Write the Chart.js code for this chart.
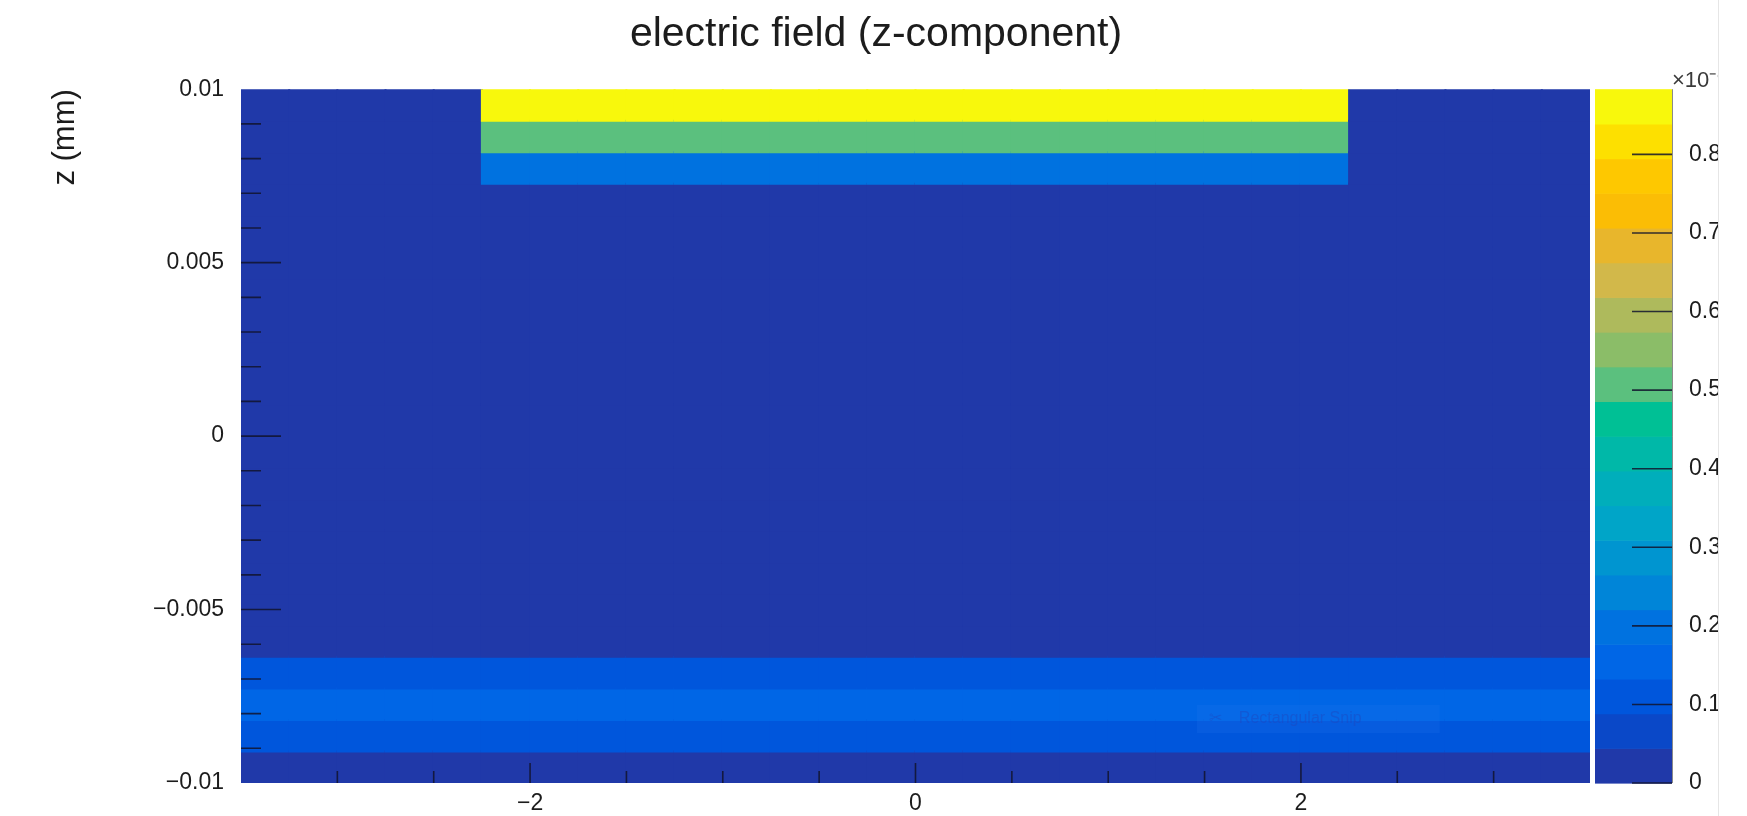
<!DOCTYPE html>
<html>
<head>
<meta charset="utf-8">
<title>electric field (z-component)</title>
<script src="https://cdn.jsdelivr.net/npm/chart.js@4.4.0/dist/chart.umd.min.js"></script>
<style>
  html, body { margin: 0; padding: 0; background: #fff; }
  #clip { width: 1718px; height: 816px; overflow: hidden; border-right: 1px solid #e6e6e6; }
  #wrap { width: 1752px; height: 816px; position: relative; }
</style>
</head>
<body>
<div id="clip"><div id="wrap"><canvas id="fieldChart"></canvas></div></div>
<script>
// binning of the 2D histogram (x and z in mm)
const xRange = [-3.5, 3.5];
const zRange = [-0.01, 0.01];
const xBinCount = 28;
const zBinCount = 22;
const electrodeHalfWidth = 2.25;

// field value per z bin, bottom to top (colour axis units)
const innerColumn = [0, 0.11, 0.16, 0.11, 0, 0, 0, 0, 0, 0, 0, 0, 0, 0, 0, 0, 0, 0, 0, 0.19, 0.5, 0.883];
const outerColumn = [0, 0.11, 0.16, 0.11, 0, 0, 0, 0, 0, 0, 0, 0, 0, 0, 0, 0, 0, 0, 0, 0, 0, 0];

// axes
const xTickLabels = [-2, 0, 2];
const zTickLabels = [-0.01, -0.005, 0, 0.005, 0.01];
const colorTickLabels = [0, 0.1, 0.2, 0.3, 0.4, 0.5, 0.6, 0.7, 0.8];
const colorMax = 0.883;

// 20 contour colours, lowest first
const palette = [
    '#2039a9', '#0a48c8', '#0056dc', '#0066e6', '#0072e0',
    '#0085d8', '#0095d0', '#00a5c8', '#00aebb', '#00b8a8',
    '#00c095', '#5bc07e', '#8bbd68', '#aeba5c', '#d2b84a',
    '#e8b62c', '#fbbd05', '#fec800', '#fde000', '#f8f80c'
];

const FONT = "'Liberation Sans', Arial, sans-serif";
const TEXT = '#1c1c1c';
const TICK = 'rgba(18, 20, 45, 0.85)';

function colorFor(v) {
    const k = Math.floor(v / colorMax * palette.length);
    return palette[Math.max(0, Math.min(palette.length - 1, k))];
}

function fmt(v) {
    const r = parseFloat(Number(v).toFixed(4));
    return r < 0 ? '\u2212' + Math.abs(r) : String(r);
}

// one floating bar per histogram cell
const cells = [];
const xStep = (xRange[1] - xRange[0]) / xBinCount;
const zStep = (zRange[1] - zRange[0]) / zBinCount;
for (let i = 0; i < xBinCount; i++) {
    const xc = xRange[0] + (i + 0.5) * xStep;
    const column = Math.abs(xc) < electrodeHalfWidth ? innerColumn : outerColumn;
    for (let j = 0; j < zBinCount; j++) {
        cells.push({ x: xc, y: [zRange[0] + j * zStep, zRange[0] + (j + 1) * zStep], v: column[j] });
    }
}

// vertical label padding would push the plot area in, ROOT doesn't do that
function noVerticalPadding(s) {
    s.paddingTop = 0;
    s.paddingBottom = 0;
}

// ROOT-like inward ticks, colour palette and the leftover snip label
const rootDecor = {
    id: 'rootDecor',
    afterDatasetsDraw(chart) {
        const { ctx, chartArea: a, scales: { x, y, z } } = chart;
        ctx.save();
        ctx.strokeStyle = TICK;
        ctx.lineWidth = 1.6;
        ctx.beginPath();
        for (let k = -6; k <= 6; k++) {
            const v = k * 0.5;
            const px = x.getPixelForValue(v);
            const len = xTickLabels.includes(v) ? 20 : 12;
            ctx.moveTo(px, a.bottom);
            ctx.lineTo(px, a.bottom - len);
        }
        for (let k = -9; k <= 9; k++) {
            const py = y.getPixelForValue(k * 0.001);
            const len = k % 5 === 0 ? 40 : 20;
            ctx.moveTo(a.left, py);
            ctx.lineTo(a.left + len, py);
        }
        ctx.stroke();

        // faint screenshot-tool label
        const sx0 = x.getPixelForValue(1.46), sx1 = x.getPixelForValue(2.72);
        const sy0 = y.getPixelForValue(-0.00775), sy1 = y.getPixelForValue(-0.00856);
        ctx.fillStyle = 'rgba(40, 120, 240, 0.18)';
        ctx.fillRect(sx0, sy0, sx1 - sx0, sy1 - sy0);
        ctx.fillStyle = 'rgba(30, 70, 190, 0.45)';
        ctx.font = '16px ' + FONT;
        ctx.textBaseline = 'middle';
        ctx.fillText('\u2702', sx0 + 12, (sy0 + sy1) / 2);
        ctx.fillText('Rectangular Snip', sx0 + 42, (sy0 + sy1) / 2);

        // palette
        const pl = a.right + 5, pr = a.right + 82;
        palette.forEach((c, k) => {
            const top = z.getPixelForValue((k + 1) * colorMax / palette.length);
            const bot = z.getPixelForValue(k * colorMax / palette.length);
            ctx.fillStyle = c;
            ctx.fillRect(pl, top, pr - pl, bot - top + 0.6);
        });
        ctx.strokeStyle = 'rgba(60, 60, 60, 0.6)';
        ctx.lineWidth = 1;
        ctx.beginPath();
        ctx.moveTo(pr + 0.5, a.top);
        ctx.lineTo(pr + 0.5, a.bottom);
        ctx.stroke();
        ctx.strokeStyle = TICK;
        ctx.lineWidth = 1.6;
        ctx.beginPath();
        colorTickLabels.forEach(v => {
            const py = z.getPixelForValue(v);
            ctx.moveTo(pr, py);
            ctx.lineTo(pr - 40, py);
        });
        ctx.stroke();
        ctx.fillStyle = '#3a3a3a';
        ctx.font = '22px ' + FONT;
        ctx.textBaseline = 'middle';
        ctx.fillText('\u00d710\u207b\u2079', pr, a.top - 8);
        ctx.restore();
    }
};

new Chart(document.getElementById('fieldChart'), {
    type: 'bar',
    data: {
        datasets: [{
            data: cells,
            backgroundColor: c => colorFor(c.raw ? c.raw.v : 0),
            borderWidth: 0,
            inflateAmount: 1,
            barPercentage: 1,
            categoryPercentage: 1,
            xAxisID: 'x',
            yAxisID: 'y'
        }]
    },
    options: {
        responsive: true,
        maintainAspectRatio: false,
        animation: false,
        events: [],
        layout: { padding: 0 },
        plugins: {
            legend: { display: false },
            tooltip: { enabled: false },
            title: {
                display: true,
                text: 'electric field (z-component)',
                color: TEXT,
                font: { family: FONT, size: 41, weight: 'normal' },
                padding: { top: 10, bottom: 30 }
            }
        },
        scales: {
            x: {
                type: 'linear',
                min: xRange[0],
                max: xRange[1],
                offset: false,
                grid: { display: false, offset: false, drawTicks: false },
                border: { display: false },
                ticks: { padding: 7, color: TEXT, font: { family: FONT, size: 23 }, callback: fmt, maxRotation: 0 },
                afterBuildTicks: s => { s.ticks = xTickLabels.map(v => ({ value: v })); },
                afterFit: s => { s.height = 33; }
            },
            y: {
                type: 'linear',
                min: zRange[0],
                max: zRange[1],
                grid: { display: false, drawTicks: false },
                border: { display: false },
                ticks: { padding: 17, color: TEXT, font: { family: FONT, size: 23 }, callback: fmt },
                title: {
                    display: true,
                    text: 'z (mm)',
                    align: 'end',
                    color: TEXT,
                    font: { family: FONT, size: 31 },
                    padding: { top: 47, bottom: 0 }
                },
                afterBuildTicks: s => { s.ticks = zTickLabels.map(v => ({ value: v })); },
                afterFit: s => { s.width = 241; noVerticalPadding(s); }
            },
            z: {
                type: 'linear',
                axis: 'y',
                position: 'right',
                min: 0,
                max: colorMax,
                grid: { display: false, drawTicks: false },
                border: { display: false },
                ticks: { padding: 99, color: TEXT, font: { family: FONT, size: 23 }, callback: fmt },
                afterBuildTicks: s => { s.ticks = colorTickLabels.map(v => ({ value: v })); },
                afterFit: s => { s.width = 162; noVerticalPadding(s); }
            }
        }
    },
    plugins: [rootDecor]
});
</script>
</body>
</html>
